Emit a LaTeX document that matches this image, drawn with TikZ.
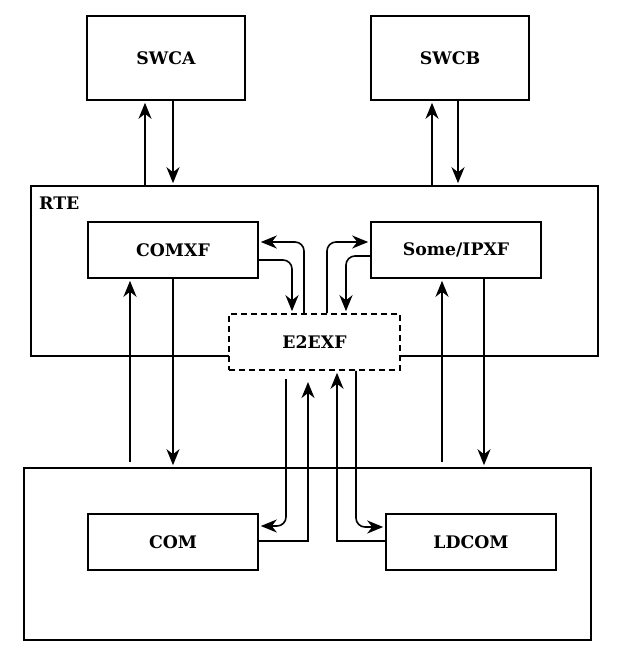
\documentclass[tikz,border=0pt]{standalone}
\usepackage{fontspec}
\setmainfont{DejaVu Serif}
\usetikzlibrary{arrows.meta}
\begin{document}
\begin{tikzpicture}[x=1pt,y=-1pt,
  lbl/.style={font=\bfseries\fontsize{17.3}{20}\selectfont},
  box/.style={draw,line width=1.6pt,minimum width=170pt,minimum height=56pt,inner sep=0pt,lbl},
  swc/.style={box,minimum width=158pt,minimum height=84pt},
  ar/.style={line width=1.6pt,shorten >=2pt,-{Stealth[length=16pt,width=13pt,inset=5pt]}},
  ln/.style={line width=1.6pt}]
\useasboundingbox (0,0) rectangle (625,668);
\node[swc] (swca) at (166,58) {SWCA};
\node[swc] (swcb) at (450,58) {SWCB};
\node[draw,line width=1.6pt,minimum width=567pt,minimum height=170pt,inner sep=0pt] (rte) at (314.5,271) {};
\node[anchor=north west,lbl,inner sep=0pt] (rtel) at (39,197) {RTE};
\node[box] (comxf) at (173,250) {COMXF};
\node[box] (ipxf) at (456,250) {Some/IPXF};
\node[box,dash pattern=on 6pt off 4pt,fill=white,minimum width=171pt] (e2e) at (314.5,342) {E2EXF};
\node[draw,line width=1.6pt,minimum width=567pt,minimum height=172pt,inner sep=0pt] (bot) at (307.5,554) {};
\node[box] (com) at (173,542) {COM};
\node[box] (ldcom) at (471,542) {LDCOM};
% SWC arrows
\draw[ar] (rte.north -| 145,0) -- (swca.south -| 145,0);
\draw[ar] (swca.south -| 173,0) -- (rte.north -| 173,0);
\draw[ar] (rte.north -| 432,0) -- (swcb.south -| 432,0);
\draw[ar] (swcb.south -| 458,0) -- (rte.north -| 458,0);
% XF to bottom
\coordinate (b1) at (130,462);
\coordinate (b2) at (442,462);
\draw[ar] (b1) -- (comxf.south -| b1);
\draw[ar] (comxf.south -| 173,0) -- (bot.north -| 173,0);
\draw[ar] (b2) -- (ipxf.south -| b2);
\draw[ar] (ipxf.south -| 484,0) -- (bot.north -| 484,0);
% COMXF <-> E2EXF
\draw[ar,rounded corners=9pt] (e2e.north -| 304,0) |- (comxf.east |- 0,242);
\draw[ar,rounded corners=9pt] (comxf.east |- 0,260) -| (e2e.north -| 292,0);
\draw[ar,rounded corners=9pt] (e2e.north -| 327,0) |- (ipxf.west |- 0,242);
\draw[ar,rounded corners=9pt] (ipxf.west |- 0,256) -| (e2e.north -| 346,0);
% E2EXF <-> COM / LDCOM
\coordinate (c1) at (286,379);
\draw[ar,rounded corners=9pt] (c1) |- (com.east |- 0,526);
\draw[ar] (com.east |- 0,541) -| (308,380);
\draw[ar] (ldcom.west |- 0,541) -| (e2e.south -| 337,0);
\draw[ar,rounded corners=9pt] (e2e.south -| 356,0) |- (ldcom.west |- 0,527);
\end{tikzpicture}
\end{document}
